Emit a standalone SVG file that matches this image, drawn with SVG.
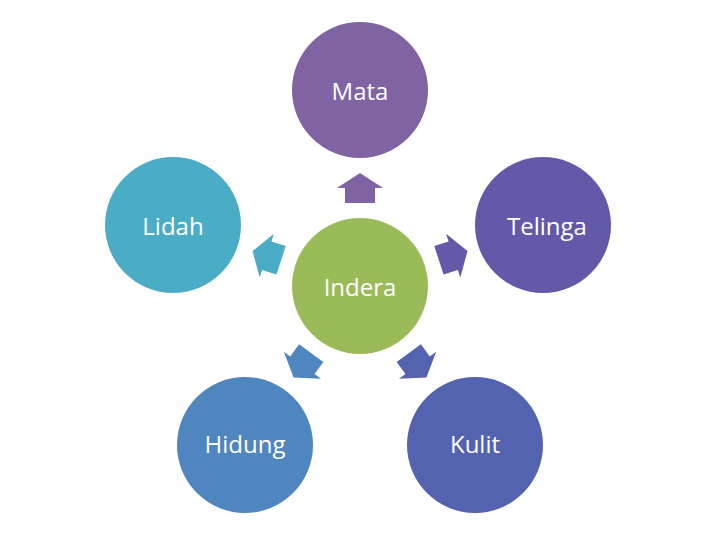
<svg xmlns="http://www.w3.org/2000/svg" width="720" height="540" viewBox="0 0 720 540">
<style>
text{font-family:"Open Sans","Liberation Sans",sans-serif;font-size:24px;fill:#fff;text-anchor:middle;dominant-baseline:central}
</style>
<defs><path id="arr" d="M360 173 L383 188 L375 188 L375 203 L345 203 L345 188 L337 188 Z"/></defs>
<rect width="720" height="540" fill="#fff"/>
<g id="connectors">
<use href="#arr" fill="#7f63a3"/>
<use href="#arr" fill="#6459a8" transform="rotate(72 360 286)"/>
<use href="#arr" fill="#5463b0" transform="rotate(144 360 286)"/>
<use href="#arr" fill="#4f86c0" transform="rotate(216 360 286)"/>
<use href="#arr" fill="#4bacc6" transform="rotate(288 360 286)"/>
</g>
<g id="indera"><circle cx="360" cy="286" r="68" fill="#9bbb59"/><text x="360" y="286">Indera</text></g>
<g id="mata"><circle cx="360" cy="90" r="68" fill="#7f63a3"/><text x="360" y="90">Mata</text></g>
<g id="telinga"><circle cx="543" cy="225" r="68" fill="#6459a8"/><text x="547" y="225">Telinga</text></g>
<g id="kulit"><circle cx="475" cy="445" r="68" fill="#5463b0"/><text x="475" y="443">Kulit</text></g>
<g id="hidung"><circle cx="245" cy="445" r="68" fill="#4f86c0"/><text x="245" y="443">Hidung</text></g>
<g id="lidah"><circle cx="173" cy="225" r="68" fill="#4bacc6"/><text x="173" y="225">Lidah</text></g>
</svg>
